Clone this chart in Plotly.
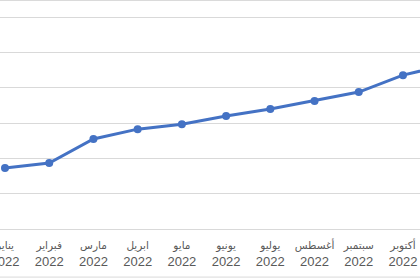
import plotly.graph_objects as go

months = ["يناير", "فبراير", "مارس", "ابريل", "مايو", "يونيو", "يوليو", "أغسطس", "سبتمبر", "أكتوبر", "نوفمبر"]
year = "2022"
values = [1.73, 1.87, 2.55, 2.83, 2.97, 3.20, 3.40, 3.63, 3.88, 4.36, 4.66]

idx = list(range(len(months)))
ticktext = [f"<span style='font-size:10.5px'>{m}</span><br>{year}" for m in months]

fig = go.Figure()
fig.add_trace(go.Scatter(
    x=idx, y=values, mode="lines+markers",
    line=dict(color="#4472C4", width=3),
    marker=dict(color="#4472C4", size=8),
    cliponaxis=True,
))

fig.update_layout(
    width=420, height=280,
    margin=dict(l=0, r=0, t=0, b=51, autoexpand=False),
    paper_bgcolor="white", plot_bgcolor="white",
    showlegend=False,
    xaxis=dict(
        range=[-0.113, 9.385],
        tickvals=idx, ticktext=ticktext, tickangle=0, automargin=False,
        ticklabeloverflow="allow", ticklabelstandoff=3,
        showgrid=False, zeroline=False,
        showline=True, linecolor="#D9D9D9", linewidth=1,
        ticks="", tickfont=dict(family="Liberation Sans, DejaVu Sans", size=13, color="#595959"),
        fixedrange=True,
    ),
    yaxis=dict(
        range=[0, 6.49], dtick=1, tick0=0, automargin=False,
        showgrid=True, gridcolor="#D9D9D9", gridwidth=1,
        zeroline=False, showticklabels=False, showline=False,
        fixedrange=True,
    ),
    shapes=[
        dict(type="line", xref="paper", yref="paper", x0=-0.1, x1=1.1, y0=0.998, y1=0.998,
             line=dict(color="#D9D9D9", width=1)),
        dict(type="line", xref="paper", yref="paper", x0=-0.1, x1=1.1, y0=-0.21, y1=-0.21,
             line=dict(color="#D9D9D9", width=1)),
    ],
)

fig.write_html("out.html")
